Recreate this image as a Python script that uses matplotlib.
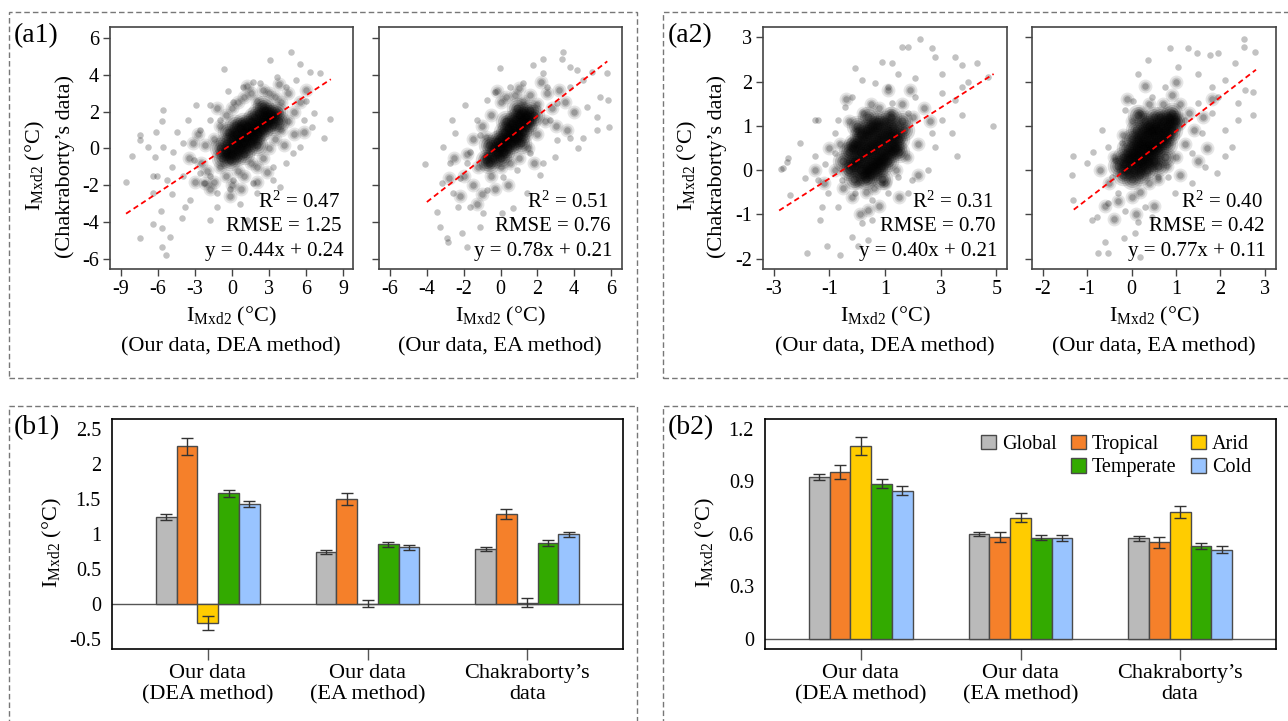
import matplotlib
matplotlib.use("Agg")
import matplotlib.pyplot as plt
import numpy as np
from matplotlib.patches import Rectangle, Patch

plt.rcParams['font.family'] = ['Liberation Serif', 'DejaVu Serif']
plt.rcParams['mathtext.fontset'] = 'custom'
plt.rcParams['mathtext.rm'] = 'Liberation Serif'
plt.rcParams['mathtext.it'] = 'Liberation Serif:italic'
plt.rcParams['axes.unicode_minus'] = False

# ---- scatter data (sparse halo, mid band, dense core) ----
a1L_halo = [(-8.6,-1.8),(-8.1,-0.4),(-7.5,0.73),(-7.5,0.45),(-6.4,-1.5),(-6.1,-1.5),(-5.8,-3.4),(-6.4,-4.1),
            (-5.7,-4.3),(-5.6,2.1),(-7.5,-4.85),(-5.4,-5.8),(-5.7,-5.35),(-5.0,-4.8),(-4.9,-1.0),(-4.5,0.9),
            (-3.55,1.55),(-2.9,2.36),(-1.8,2.36),(-0.63,4.3),(-0.3,3.1),(1.7,3.63),(3.07,4.8),(4.8,5.26),
            (5.5,4.6),(6.3,4.17),(7.1,4.1),(7.9,1.6),(7.45,0.55),(6.45,1.18),(5.5,0.1),(4.96,-0.27),(3.3,-1.0),
            (3.3,-1.7),(2.0,-2.4),(0.64,-3.0),(1.2,-3.9),(-1.8,-3.9),(-1.25,-3.2),(-3.4,-2.8),(-3.8,-3.2),
            (-4.1,-3.8),(-4.9,-2.5),(-6.4,-2.4),(-4.8,-0.2),(-5.6,0.1),(-6.25,-0.45),(-3.95,0.28),(-3.1,-0.63),
            (-2.6,-1.35),(-2.3,-1.9),(-1.8,-1.5),(-1.25,-2.4),(-0.2,-2.2),(0.1,-1.7),(1.7,-1.9),(3.9,-2.1),
            (4.4,-0.8),(4.4,3.36),(5.2,3.7),(6.0,2.6),(6.6,1.9),(5.8,1.55),(3.6,3.9),(2.3,3.54),(0.9,3.36),
            (0.1,2.54),(-1.8,1.55),(-2.6,1.0),(-1.0,1.55),(-3.95,-1.5),(-5.3,-1.7),(-5.7,1.5),(-6.8,0.1),(-6.2,0.9)]
a1L_mid = [(-2.5,-0.8),(-2,-1.2),(-2.2,0.2),(-1.5,-1.8),(-1.5,0.5),(-1,-1),(-1,1.2),(-0.5,-1.5),(-0.5,-0.3),
           (-0.5,1.8),(0,-2),(0,0.8),(0,2.2),(0.5,-1.2),(0.5,2.5),(1,-1.5),(1,2.8),(1.5,-0.8),(1.5,3),(2,-1),
           (2,2.6),(2.5,-0.5),(2.5,3.2),(3,0),(3,3),(3.5,0.5),(3.5,2.8),(4,1),(4,2.5),(4.5,1.5),(4.5,3),(5,2),
           (5,0.8),(-3,-1.8),(-3.5,-0.5),(-2.8,0.8),(-1.8,-2.2),(5.5,2.5),(2,-1.8),(-0.2,-2.6),(1.2,3.4),
           (3.8,3.5),(-1.2,2.2),(0.7,-2.2),(2.8,-1.3),(4.2,0.2),(-2.2,-1.9),(-3.2,0.3),(6,3.2),(5.8,0.9)]
a1L_core = [(-0.8,-0.5),(-0.5,-0.2),(-0.5,0.3),(-0.2,-0.6),(0,0),(0,0.5),(0,-0.3),(0.3,0.2),(0.3,0.8),
            (0.3,-0.4),(0.6,0.5),(0.6,1.1),(0.6,0),(0.9,0.3),(0.9,0.9),(0.9,1.4),(1.2,0.6),(1.2,1.2),(1.2,0.1),
            (1.5,0.9),(1.5,1.5),(1.5,0.4),(1.8,1.1),(1.8,0.6),(1.8,1.7),(2.1,1.3),(2.1,0.8),(2.1,1.9),(2.4,1.5),
            (2.4,1.0),(2.7,1.7),(2.7,1.2),(2.7,2.1),(3.0,1.5),(3.0,1.9),(3.3,1.8),(3.3,1.3),(3.6,2.0),(-1.0,0),
            (0.2,1.3),(1.0,-0.3),(2.0,0.2),(2.5,2.3),(3.8,1.5),(-0.3,0.9)]

a1R_halo = [(-4.1,-0.85),(-3.2,-1.86),(-3.47,-3.44),(-3.3,-4.25),(-2.92,-4.89),(-2.83,-5.07),(-2.65,1.55),
            (-3.1,0.1),(-1.93,2.36),(-0.75,2.63),(-0.02,4.35),(-0.3,3.09),(1.79,4.53),(2.33,4.84),(3.42,5.26),
            (3.33,4.84),(3.78,4.44),(4.14,4.26),(4.96,4.17),(5.77,4.08),(5.83,2.63),(5.92,1.18),(5.41,2.81),
            (4.69,2.27),(5.23,1.73),(4.5,0.55),(4.23,0.0),(3.78,0.55),(3.06,0.46),(2.97,-0.45),(2.33,-0.81),
            (2.15,-1.44),(1.43,-2.44),(0.7,-3.25),(0.07,-3.53),(-0.93,-3.53),(-1.11,-4.25),(-1.84,-5.34),
            (-2.1,-4.6),(-1.65,-3.16),(-2.29,-3.16),(-2.56,-2.44),(-2.2,-1.62),(-1.84,-0.81),(-1.65,-0.18),
            (-1.1,0.73),(-1.29,1.55),(-2.47,0.82),(-2.74,-0.81),(-0.75,-2.26),(0.16,-1.53),(0.88,-1.17),
            (1.61,-0.27),(2.69,1.55),(3.06,2.45),(2.51,3.36),(1.24,3.54),(0.52,3.36),(3.78,3.36),(4.5,3.72),
            (5.23,1.0),(2.33,4.08)]
a1R_mid = [(-2,-1.5),(-1.8,-0.3),(-1.5,-2),(-1.5,0.5),(-1.2,-1),(-1,-2.5),(-1,1.2),(-0.8,-0.4),(-0.5,-1.5),
           (-0.5,1.8),(-0.3,-2.2),(0,2.5),(0,-1),(0.3,2.8),(0.5,-0.8),(0.8,2.9),(1,-0.5),(1.2,2.6),(1.5,0),
           (1.6,2.9),(2,0.8),(2,2.4),(2.4,1.5),(2.5,3),(2.8,2.2),(3,1.2),(3.2,3.2),(3.5,2.5),(-2.5,-0.5),
           (-2.2,-2.6),(1.8,-0.8),(-0.2,3.1),(1.0,3.3),(2.2,3.6),(-1.3,-3),(0.4,-2),(4,2),(3.6,1),(-2.8,-1.6),
           (-0.8,0.6)]
a1R_core = [(-0.6,-0.8),(-0.4,-0.5),(-0.4,0),(-0.2,-0.2),(-0.2,0.4),(0,0),(0,0.5),(0,-0.5),(0.2,0.3),
            (0.2,0.9),(0.2,-0.2),(0.4,0.6),(0.4,1.1),(0.4,0.1),(0.6,0.8),(0.6,1.4),(0.6,0.3),(0.8,1.0),(0.8,1.6),
            (0.8,0.5),(1.0,1.2),(1.0,1.8),(1.0,0.7),(1.2,1.5),(1.2,2.0),(1.2,0.9),(1.4,1.7),(1.4,1.2),(1.6,2.1),
            (1.6,1.5),(-0.8,-0.6),(-0.6,0.2),(1.8,1.8),(0.9,2.2),(0.3,1.5),(1.1,0.3)]

a2L_halo = [(-2.73,0.03),(-2.47,0.27),(-2.53,0.19),(-2.05,0.61),(-2.41,-0.56),(-2.65,0.04),(-1.51,1.13),
            (-1.39,1.13),(-1.87,-0.18),(-1.27,-0.82),(-1.33,-1.12),(-1.1,-1.72),(-1.81,-1.88),(-0.62,-1.91),
            (-0.2,-1.5),(0.04,-1.72),(0.16,-1.2),(0.52,-1.12),(0.4,-1.57),(-0.08,2.3),(0.88,2.45),(1.24,2.41),
            (1.6,2.79),(1.84,2.79),(2.25,2.97),(2.67,2.75),(2.79,2.56),(3.51,2.56),(3.75,2.37),(4.29,2.41),
            (3.99,2.0),(3.75,1.88),(4.71,2.11),(4.89,1.0),(3.57,0.31),(3.75,1.25),(3.03,1.13),(2.79,0.53),
            (2.55,0.0),(1.96,-0.22),(1.84,-0.52),(1.12,-0.52),(1.48,-0.15),(0.88,-0.3),(0.52,-0.67),(-0.08,-0.52),
            (-0.56,-0.22),(-0.68,-0.82),(-1.04,-0.52),(-1.39,-0.22),(-1.16,0.15),(-1.51,0.31),(-0.8,0.38),
            (-0.8,0.83),(-0.44,1.43),(-0.68,1.13),(-0.2,1.66),(0.16,2.03),(0.64,1.96),(1.12,1.88),(1.48,2.18),
            (2.07,2.07),(2.07,1.66),(3.03,1.73),(1.84,1.28),(1.24,1.51),(2.67,0.83),(3.39,0.83),(3.51,1.58),
            (3.03,2.18)]
a2L_mid = [(-0.8,0),(-0.6,0.6),(-0.5,-0.4),(-0.3,1.1),(-0.2,-0.6),(0,0.9),(0,-0.3),(0.2,1.3),(0.3,-0.5),
           (0.5,1.5),(0.6,-0.4),(0.8,1.4),(1,-0.3),(1.2,1.3),(1.4,0),(1.6,1.5),(1.8,0.3),(2,1.2),(2.2,0.6),
           (2.4,1.4),(-1.2,-0.3),(-1,0.5),(0.4,-0.9),(1.1,1.8),(1.9,1.8),(2.6,1.1),(-1.5,0),(0.8,-0.8),
           (2.2,-0.1),(-0.4,1.6),(0.1,-1),(1.5,-0.6)]
a2L_core = [(-0.3,0),(-0.3,0.4),(-0.1,-0.2),(-0.1,0.2),(-0.1,0.6),(0.1,0),(0.1,0.4),(0.1,0.8),(0.3,0.1),
            (0.3,0.5),(0.3,0.9),(0.3,-0.2),(0.5,0.2),(0.5,0.6),(0.5,1.0),(0.5,-0.1),(0.7,0.3),(0.7,0.7),(0.7,1.1),
            (0.7,0),(0.9,0.4),(0.9,0.8),(0.9,0.1),(1.1,0.5),(1.1,0.9),(1.1,0.2),(1.3,0.6),(1.3,1.0),(1.5,0.7),
            (1.5,0.4),(1.7,0.9),(-0.5,0.2),(1.2,1.2),(0.4,1.2),(0.9,-0.2),(1.6,1.1),
            (-0.2,0.1),(-0.2,0.5),(0,0.2),(0,0.6),(0.2,0.3),(0.2,0.7),(0.2,-0.1),(0.4,0.4),(0.4,0.8),(0.4,0),
            (0.6,0.5),(0.6,0.9),(0.6,0.1),(0.8,0.6),(0.8,0.2),(0.8,1.0),(1.0,0.7),(1.0,0.3),(1.2,0.8),(1.2,0.4),
            (1.4,0.8),(1.4,0.5),(0.0,1.0),(1.0,1.1)]

a2R_halo = [(-1.32,0.33),(-1.35,-0.11),(-1.31,-0.67),(-1.01,0.16),(-0.86,0.4),(-0.66,0.91),(-0.9,-1.12),
            (-0.78,-1.05),(-0.6,-1.61),(-0.75,-1.88),(-0.52,-1.88),(-0.18,-1.54),(0.08,-1.42),(0.19,-1.95),
            (0.15,-1.16),(0.45,-1.05),(0.3,-0.82),(-0.15,1.36),(0.04,1.55),(0.15,2.18),(0.38,2.49),(0.87,2.75),
            (1.28,2.75),(1.47,2.64),(1.77,2.6),(1.95,2.64),(2.33,2.41),(2.52,2.97),(2.78,2.67),(2.52,2.79),
            (2.74,1.77),(2.74,1.24),(2.55,1.81),(2.4,1.13),(2.1,0.91),(2.25,0.53),(2.1,0.31),(1.92,-0.07),
            (1.65,0.08),(1.35,-0.3),(0.98,-0.52),(0.83,-0.15),(0.6,-0.15),(-0.3,-0.52),(-0.45,-0.15),(-0.52,-0.75),
            (-0.15,-0.93),(-0.37,0.23),(-0.22,0.61),(-0.52,0.53),(0.45,1.66),(0.75,1.88),(1.05,2.33),(1.5,2.18),
            (1.8,1.88),(2.1,2.03),(1.5,1.51),(1.8,1.28),(1.95,1.66),(2.4,1.51),(1.2,1.13),(1.58,0.83),(1.35,0.38)]
a2R_mid = [(-0.5,-0.3),(-0.4,0.3),(-0.3,-0.7),(-0.2,0.8),(0,-0.6),(0,1.1),(0.2,-0.5),(0.2,1.3),(0.4,-0.3),
           (0.4,1.5),(0.6,-0.2),(0.7,1.5),(0.8,0.1),(0.9,1.7),(1.0,0.3),(1.1,1.5),(1.2,0.6),(1.3,1.3),(1.4,0.9),
           (1.6,1.2),(-0.6,-0.8),(-0.7,0),(0.1,-1),(0.5,-0.8),(1.1,-0.1),(1.7,0.5),(0.3,1.9),(1.0,2.0),(1.8,1.6),
           (-0.1,1.6),(1.5,0.2),(-0.4,-1.1)]
a2R_core = [(-0.2,-0.1),(-0.2,0.3),(-0.1,0.0),(-0.1,0.5),(0,-0.2),(0,0.3),(0,0.7),(0.1,0.1),(0.1,0.5),
            (0.1,0.9),(0.2,0.2),(0.2,0.6),(0.2,-0.1),(0.3,0.4),(0.3,0.8),(0.3,1.1),(0.4,0.2),(0.4,0.6),(0.4,1.0),
            (0.5,0.4),(0.5,0.8),(0.5,1.2),(0.6,0.5),(0.6,0.9),(0.6,0.1),(0.7,0.7),(0.7,1.1),(0.8,0.6),(0.8,1.0),
            (0.9,0.9),(0.9,1.3),(1.0,1.1),(-0.3,0.1),(0.35,0.0),(0.75,0.3),(0.15,1.25),
            (-0.15,0.15),(-0.05,0.25),(0.05,0.4),(0.05,0.0),(0.15,0.7),(0.15,0.3),(0.25,0.5),(0.25,0.9),
            (0.35,0.7),(0.35,0.3),(0.45,0.9),(0.45,0.5),(0.55,0.6),(0.55,1.0),(0.65,0.7),(0.65,1.2),(0.75,0.9),
            (0.85,0.8),(0.85,1.2),(0.95,1.1),(0.25,0.1),(0.5,0.2)]

# fit statistics printed in each panel
r2 = ['0.47', '0.51', '0.31', '0.40']
rmse = ['1.25', '0.76', '0.70', '0.42']
slope = [0.44, 0.78, 0.40, 0.77]
intercept = [0.24, 0.21, 0.21, 0.11]
fit_xrange = [(-8.6, 8.0), (-4.0, 5.8), (-2.8, 4.9), (-1.3, 2.8)]

# ---- bar data ----
groups = ['Our data\n(DEA method)', 'Our data\n(EA method)', 'Chakraborty\u2019s\ndata']
zones = ['Global', 'Tropical', 'Arid', 'Temperate', 'Cold']
zone_colors = ['#bababa', '#f5802a', '#ffcc00', '#33aa00', '#99c4ff']

b1_mean = [[1.25, 0.75, 0.79],
           [2.26, 1.50, 1.29],
           [-0.27, 0.005, 0.024],
           [1.59, 0.86, 0.88],
           [1.43, 0.816, 1.00]]
b1_err = [[0.04, 0.03, 0.03],
          [0.12, 0.085, 0.075],
          [0.10, 0.05, 0.07],
          [0.05, 0.035, 0.04],
          [0.045, 0.035, 0.04]]
b2_mean = [[0.925, 0.599, 0.574],
           [0.954, 0.582, 0.551],
           [1.103, 0.692, 0.725],
           [0.887, 0.576, 0.530],
           [0.847, 0.574, 0.509]]
b2_err = [[0.016, 0.011, 0.013],
          [0.042, 0.029, 0.033],
          [0.050, 0.027, 0.034],
          [0.025, 0.014, 0.017],
          [0.027, 0.017, 0.021]]

W, H = 1288, 721
fig = plt.figure(figsize=(W/100, H/100), dpi=100)


def add_ax(l, t, r, b):
    return fig.add_axes([l/W, 1-b/H, (r-l)/W, (b-t)/H])


def ftext(x, y, s, **kw):
    return fig.text(x/W, 1-y/H, s, **kw)


ylab = r'$\mathrm{I}_{\mathrm{Mxd2}}$ (°C)'

# soft rendering for the dense layers: each point is drawn as stacked faint discs
halo_style = [(22, 0.24)]
mid_style = [(100, 0.1), (50, 0.14), (22, 0.22)]
core_style = [(240, 0.13), (150, 0.18), (80, 0.24), (34, 0.3)]


def scatter_panel(box, i, halo, mid, core, xlim, ylim, xticks, yticks, ylabels):
    ax = add_ax(*box)
    for pts, style in [(halo, halo_style), (mid, mid_style), (core, core_style)]:
        p = np.array(pts)
        for s, a in style:
            ax.scatter(p[:, 0], p[:, 1], s=s, c='k', alpha=a, lw=0)
    xx = np.array(fit_xrange[i])
    ax.plot(xx, slope[i]*xx + intercept[i], color='red', ls=(0, (3, 2)), lw=1.3)
    ax.set_xlim(xlim)
    ax.set_ylim(ylim)
    ax.set_xticks(xticks)
    ax.set_yticks(yticks)
    if not ylabels:
        ax.set_yticklabels([])
    ax.tick_params(direction='out', length=5, width=1, color='#444', labelsize=14.5, pad=3)
    for sp in ax.spines.values():
        sp.set_color('#444')
        sp.set_linewidth(1.2)
    lines = ['R$^2$ = ' + r2[i], 'RMSE = ' + rmse[i], 'y = %.2fx + %.2f' % (slope[i], intercept[i])]
    for k, (s, xf) in enumerate(zip(lines, [0.945, 0.952, 0.96])):
        ax.text(xf, 0.278 - 0.102*k, s, transform=ax.transAxes, ha='right', va='center', fontsize=15)
    cx = (box[0] + box[2]) / 2
    ftext(cx, 316, ylab, ha='center', va='center', fontsize=16)
    return ax


scatter_panel((110, 27, 353, 269), 0, a1L_halo, a1L_mid, a1L_core, (-9.9, 9.8), (-6.55, 6.6),
              [-9, -6, -3, 0, 3, 6, 9], [-6, -4, -2, 0, 2, 4, 6], True)
scatter_panel((379, 27, 622, 269), 1, a1R_halo, a1R_mid, a1R_core, (-6.6, 6.6), (-6.55, 6.6),
              [-6, -4, -2, 0, 2, 4, 6], [-6, -4, -2, 0, 2, 4, 6], False)
scatter_panel((763, 27, 1007, 269), 2, a2L_halo, a2L_mid, a2L_core, (-3.38, 5.38), (-2.23, 3.23),
              [-3, -1, 1, 3, 5], [-2, -1, 0, 1, 2, 3], True)
scatter_panel((1032, 27, 1276, 269), 3, a2R_halo, a2R_mid, a2R_core, (-2.24, 3.25), (-2.23, 3.23),
              [-2, -1, 0, 1, 2, 3], [-2, -1, 0, 1, 2, 3], False)

ftext(231, 347, '(Our data, DEA method)', ha='center', va='center', fontsize=16)
ftext(500, 347, '(Our data, EA method)', ha='center', va='center', fontsize=16)
ftext(885, 347, '(Our data, DEA method)', ha='center', va='center', fontsize=16)
ftext(1154, 347, '(Our data, EA method)', ha='center', va='center', fontsize=16)
for x0 in [35, 687]:
    ftext(x0, 166, ylab, rotation=90, ha='center', va='center', fontsize=16)
    ftext(x0 + 30, 166, '(Chakraborty\u2019s data)', rotation=90, ha='center', va='center', fontsize=16)


def bar_panel(box, mean, err, ylim, yticks, yticklabels):
    ax = add_ax(*box)
    x = np.arange(len(groups))
    w = 0.13
    for k in range(len(zones)):
        ax.bar(x + (k - 2)*w, mean[k], w, yerr=err[k], color=zone_colors[k], edgecolor='#4a4a4a',
               linewidth=1, label=zones[k], zorder=2,
               error_kw=dict(ecolor='#333', elinewidth=1, capsize=4, capthick=1))
    ax.axhline(0, color='#555', lw=1, zorder=1)
    ax.set_xlim(-0.6, 2.6)
    ax.set_ylim(ylim)
    ax.set_xticks(x)
    ax.set_xticklabels(groups, fontsize=16, linespacing=1.15)
    ax.set_yticks(yticks)
    ax.set_yticklabels(yticklabels, fontsize=14.5)
    ax.tick_params(axis='x', direction='out', length=8, width=1, color='#555', pad=3)
    ax.tick_params(axis='y', length=0, pad=8)
    for sp in ax.spines.values():
        sp.set_linewidth(1.2)
    return ax


bar_panel((112, 419, 623, 649), b1_mean, b1_err, (-0.64, 2.65),
          [-0.5, 0, 0.5, 1, 1.5, 2, 2.5], ['-0.5', '0', '0.5', '1', '1.5', '2', '2.5'])
ax_b2 = bar_panel((765, 419, 1276, 649), b2_mean, b2_err, (-0.06, 1.257),
                  [0, 0.3, 0.6, 0.9, 1.2], ['0', '0.3', '0.6', '0.9', '1.2'])
ftext(52, 543, ylab, rotation=90, ha='center', va='center', fontsize=16)
ftext(705, 543, ylab, rotation=90, ha='center', va='center', fontsize=16)

# legend with an empty slot under "Global"
handles = [Patch(fc=c, ec='#4a4a4a', lw=1) for c in zone_colors]
blank = Patch(fc='none', ec='none')
leg_handles = [handles[0], blank, handles[1], handles[3], handles[2], handles[4]]
leg_labels = ['Global', '', 'Tropical', 'Temperate', 'Arid', 'Cold']
ax_b2.legend(leg_handles, leg_labels, ncol=3, loc='upper right', bbox_to_anchor=(0.975, 0.985),
             frameon=False, fontsize=14.5, handlelength=0.75, handleheight=0.75, handletextpad=0.3,
             columnspacing=0.7, labelspacing=0.2, borderaxespad=0.2)

# panel tags
ftext(14, 36, '(a1)', fontsize=20, va='center')
ftext(668, 36, '(a2)', fontsize=20, va='center')
ftext(14, 428, '(b1)', fontsize=20, va='center')
ftext(668, 428, '(b2)', fontsize=20, va='center')

# dashed panel frames
for (l, t, r, b) in [(9, 12, 637, 378), (663, 12, 1300, 378), (9, 406, 637, 740), (663, 406, 1300, 740)]:
    fig.add_artist(Rectangle((l/W, 1-b/H), (r-l)/W, (b-t)/H, transform=fig.transFigure, fill=False,
                             ec='#777', lw=1.0, ls=(0, (4, 2.2))))

fig.savefig('out.png', dpi=100)
